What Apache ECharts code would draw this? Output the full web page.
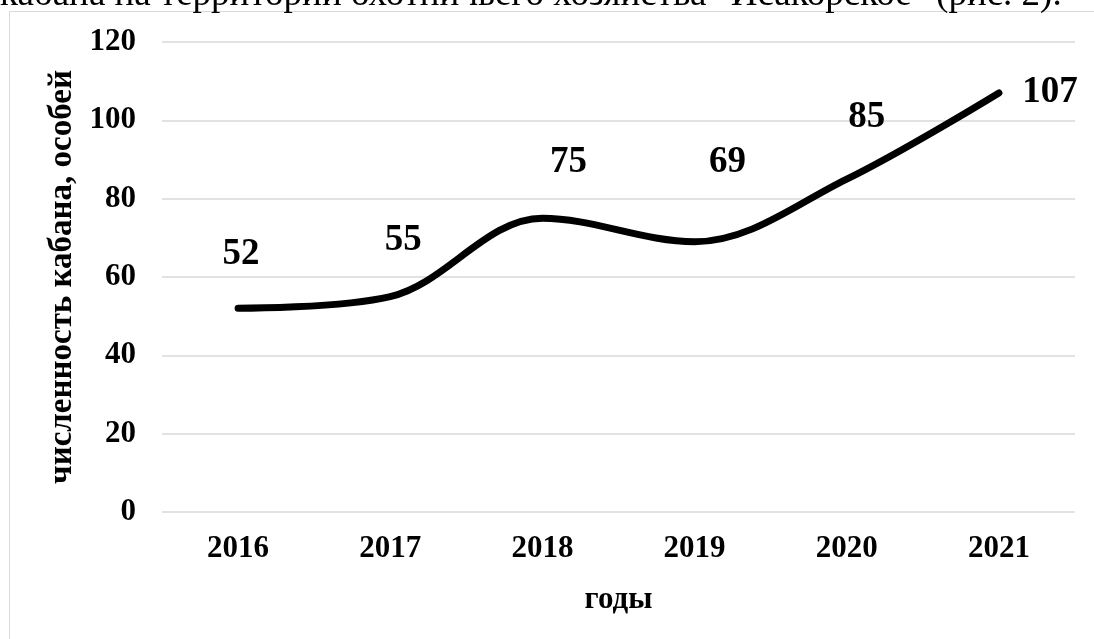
<!DOCTYPE html>
<html>
<head>
<meta charset="utf-8">
<script src="https://cdn.jsdelivr.net/npm/echarts@6/dist/echarts.min.js"></script>
<style>
  html, body { margin: 0; padding: 0; background: #fff; }
  #chart { width: 1094px; height: 639px; }
</style>
</head>
<body>
<div id="chart"></div>
<script>
// Численность кабана по годам
const years = ['2016', '2017', '2018', '2019', '2020', '2021'];
const boarCount = [52, 55, 75, 69, 85, 107];
const yTicks = [0, 20, 40, 60, 80, 100, 120];

// Ручное смещение подписей значений (dx, dy), пиксели
const labelShift = [[3, -54], [13, -56], [26, -56], [33, -79], [20, -62], [51, 0]];

const serif = '"Liberation Serif", "Times New Roman", serif';

const seriesData = boarCount.map((v, i) => ({
  value: v,
  label: { offset: labelShift[i] }
}));

const chart = echarts.init(document.getElementById('chart'));
chart.setOption({
  animation: false,
  backgroundColor: '#ffffff',
  graphic: [
    {
      type: 'text',
      style: {
        x: 0,
        y: -23,
        text: 'кабана на территории охотничьего хозяйства "Исакорское" (рис. 2).',
        font: '37px ' + serif,
        fill: '#000'
      }
    },
    {
      type: 'rect',
      shape: { x: 9.5, y: 11.5, width: 1200, height: 700 },
      style: { fill: 'none', stroke: '#d9d9d9', lineWidth: 1 },
      z: -1
    }
  ],
  grid: { left: 162, right: 19, top: 42, bottom: 127 },
  xAxis: {
    type: 'category',
    data: years,
    boundaryGap: true,
    name: 'годы',
    nameLocation: 'middle',
    nameGap: 72,
    nameTextStyle: { fontFamily: serif, fontWeight: 'bold', fontSize: 31, color: '#000' },
    axisLine: { show: false },
    axisTick: { show: false },
    axisLabel: { fontFamily: serif, fontWeight: 'bold', fontSize: 31, color: '#000', margin: 21 }
  },
  yAxis: {
    type: 'value',
    min: yTicks[0],
    max: yTicks[yTicks.length - 1],
    interval: 20,
    name: 'численность кабана, особей',
    nameLocation: 'middle',
    nameGap: 74,
    nameTextStyle: { fontFamily: serif, fontWeight: 'bold', fontSize: 33, color: '#000' },
    axisLine: { show: false },
    axisTick: { show: false },
    axisLabel: { fontFamily: serif, fontWeight: 'bold', fontSize: 31, color: '#000', margin: 26 },
    splitLine: { lineStyle: { color: '#d9d9d9', width: 1.5 } }
  },
  series: [{
    type: 'line',
    data: seriesData,
    smooth: 0.35,
    symbol: 'circle',
    symbolSize: 1,
    showSymbol: true,
    itemStyle: { color: 'rgba(0,0,0,0)' },
    lineStyle: { color: '#000', width: 7, cap: 'round', join: 'round' },
    label: {
      show: true,
      position: 'inside',
      fontFamily: serif,
      fontWeight: 'bold',
      fontSize: 37,
      color: '#000'
    }
  }]
});
</script>
</body>
</html>
